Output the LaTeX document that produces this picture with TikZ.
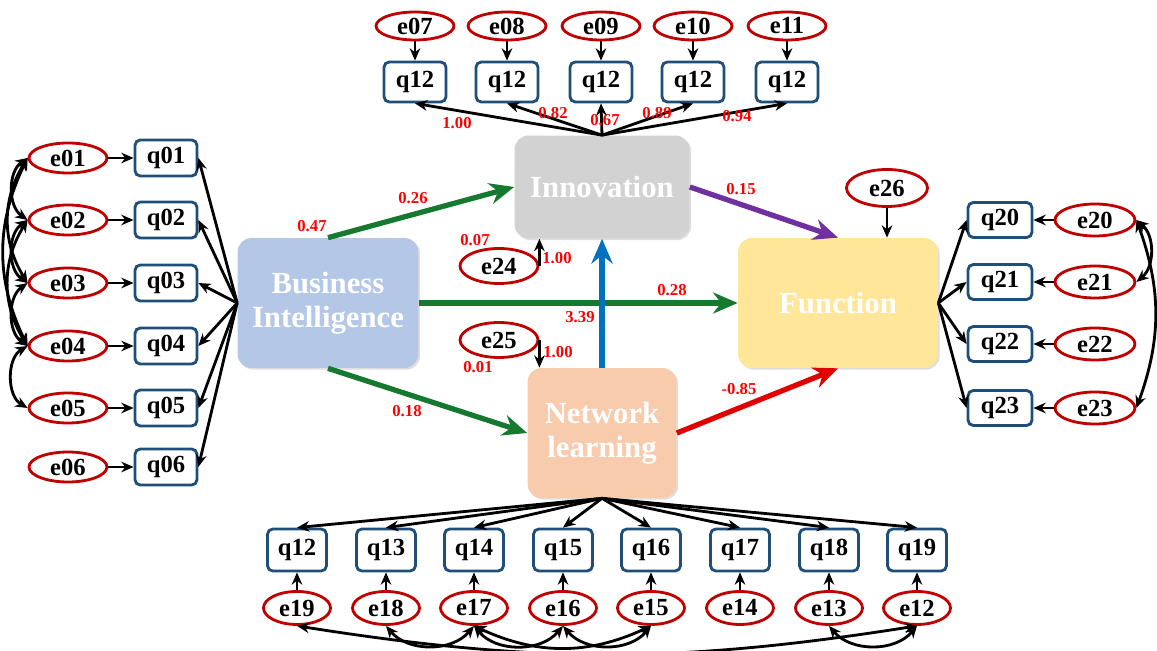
\documentclass[tikz,border=0pt]{standalone}
\usepackage{fontspec}
\setmainfont{Liberation Serif}
\usepackage{xcolor}
\usepackage{tikz}
\usetikzlibrary{shapes.geometric, arrows.meta, shadows}

\definecolor{errred}{HTML}{C00000}
\definecolor{boxblue}{HTML}{1F4E79}
\definecolor{bifill}{HTML}{B4C7E7}
\definecolor{innfill}{HTML}{D2D2D2}
\definecolor{netfill}{HTML}{F8CBAD}
\definecolor{funfill}{HTML}{FFE699}
\definecolor{pathgreen}{HTML}{17792F}
\definecolor{pathpurple}{HTML}{7030A0}
\definecolor{pathred}{HTML}{E00000}
\definecolor{pathblue}{HTML}{0070C0}

\begin{document}
\begin{tikzpicture}[x=0.02cm, y=-0.02cm, >={Stealth[length=7pt, width=6pt]}]
\tikzset{
  resid/.style = {ellipse, draw=errred, line width=1.6pt, fill=white, minimum width=1.56cm, minimum height=0.6cm, inner sep=0pt, font=\fontsize{14}{15}\selectfont\bfseries},
  indicator/.style = {rectangle, draw=boxblue, line width=1.6pt, fill=white, rounded corners=3pt, minimum width=1.24cm, minimum height=0.72cm, inner sep=0pt, font=\fontsize{14}{15}\selectfont\bfseries},
  latent/.style = {rectangle, rounded corners=8pt, text=white, align=center, font=\fontsize{17.5}{19.5}\selectfont\bfseries, drop shadow={shadow xshift=1pt, shadow yshift=-1pt, opacity=.25}},
  load/.style = {draw, line width=1.6pt, ->},
  cov/.style = {draw, line width=1.6pt, <->},
  struct/.style = {draw, line width=3pt, -{Stealth[length=14pt, width=12pt]}},
  coef/.style = {text=red, font=\fontsize{9.5}{11}\selectfont\bfseries, inner sep=1pt}
}
\useasboundingbox (0,0) rectangle (1157,651);

% latent variables
\node [latent, fill=bifill, minimum width=3.62cm, minimum height=2.6cm] (bi) at (328,303) {Business\\Intelligence};
\node [latent, fill=innfill, minimum width=3.5cm, minimum height=2.06cm] (innov) at (602,187) {Innovation};
\node [latent, fill=netfill, minimum width=2.98cm, minimum height=2.6cm] (net) at (602,433) {Network\\learning};
\node [latent, fill=funfill, minimum width=4cm, minimum height=2.6cm] (func) at (838,303) {Function};

% Business Intelligence indicators
\node [resid] (e01) at (68,158) {e01};
\node [resid] (e02) at (68,220) {e02};
\node [resid] (e03) at (68,283) {e03};
\node [resid] (e04) at (68,346) {e04};
\node [resid] (e05) at (68,408) {e05};
\node [resid] (e06) at (68,467) {e06};
\node [indicator, right of=e01, node distance=1.96cm] (q01) {q01};
\node [indicator, right of=e02, node distance=1.96cm] (q02) {q02};
\node [indicator, right of=e03, node distance=1.96cm] (q03) {q03};
\node [indicator, right of=e04, node distance=1.96cm] (q04) {q04};
\node [indicator, right of=e05, node distance=1.96cm] (q05) {q05};
\node [indicator, right of=e06, node distance=1.96cm] (q06) {q06};

% Innovation indicators
\node [resid, minimum height=0.56cm] (e07) at (415,26) {e07};
\node [resid, minimum height=0.56cm] (e08) at (507,26) {e08};
\node [resid, minimum height=0.56cm] (e09) at (601,26) {e09};
\node [resid, minimum height=0.56cm] (e10) at (693,26) {e10};
\node [resid, minimum height=0.56cm] (e11) at (787,26) {e11};
\node [indicator, below of=e07, node distance=1.12cm, minimum height=0.8cm] (q07) {q12};
\node [indicator, below of=e08, node distance=1.12cm, minimum height=0.8cm] (q08) {q12};
\node [indicator, below of=e09, node distance=1.12cm, minimum height=0.8cm] (q09) {q12};
\node [indicator, below of=e10, node distance=1.12cm, minimum height=0.8cm] (q10) {q12};
\node [indicator, below of=e11, node distance=1.12cm, minimum height=0.8cm] (q11) {q12};

% Network learning indicators
\node [indicator, minimum width=1.18cm, minimum height=0.84cm] (q12) at (297,550) {q12};
\node [indicator, minimum width=1.18cm, minimum height=0.84cm] (q13) at (386,550) {q13};
\node [indicator, minimum width=1.18cm, minimum height=0.84cm] (q14) at (474,550) {q14};
\node [indicator, minimum width=1.18cm, minimum height=0.84cm] (q15) at (563,550) {q15};
\node [indicator, minimum width=1.18cm, minimum height=0.84cm] (q16) at (651,550) {q16};
\node [indicator, minimum width=1.18cm, minimum height=0.84cm] (q17) at (740,550) {q17};
\node [indicator, minimum width=1.18cm, minimum height=0.84cm] (q18) at (829,550) {q18};
\node [indicator, minimum width=1.18cm, minimum height=0.84cm] (q19) at (917,550) {q19};
\node [resid, below of=q12, node distance=1.16cm, minimum width=1.34cm, minimum height=0.66cm] (e19) {e19};
\node [resid, below of=q13, node distance=1.16cm, minimum width=1.34cm, minimum height=0.66cm] (e18) {e18};
\node [resid, below of=q14, node distance=1.16cm, minimum width=1.34cm, minimum height=0.66cm] (e17) {e17};
\node [resid, below of=q15, node distance=1.16cm, minimum width=1.34cm, minimum height=0.66cm] (e16) {e16};
\node [resid, below of=q16, node distance=1.16cm, minimum width=1.34cm, minimum height=0.66cm] (e15) {e15};
\node [resid, below of=q17, node distance=1.16cm, minimum width=1.34cm, minimum height=0.66cm] (e14) {e14};
\node [resid, below of=q18, node distance=1.16cm, minimum width=1.34cm, minimum height=0.66cm] (e13) {e13};
\node [resid, below of=q19, node distance=1.16cm, minimum width=1.34cm, minimum height=0.66cm] (e12) {e12};

% Function indicators
\node [indicator, minimum width=1.28cm, minimum height=0.7cm] (q20) at (1000,220) {q20};
\node [indicator, minimum width=1.28cm, minimum height=0.7cm] (q21) at (1000,282) {q21};
\node [indicator, minimum width=1.28cm, minimum height=0.7cm] (q22) at (1000,344) {q22};
\node [indicator, minimum width=1.28cm, minimum height=0.7cm] (q23) at (1000,408) {q23};
\node [resid, right of=q20, node distance=1.9cm, minimum width=1.6cm, minimum height=0.64cm] (e20) {e20};
\node [resid, right of=q21, node distance=1.9cm, minimum width=1.6cm, minimum height=0.64cm] (e21) {e21};
\node [resid, right of=q22, node distance=1.9cm, minimum width=1.6cm, minimum height=0.64cm] (e22) {e22};
\node [resid, right of=q23, node distance=1.9cm, minimum width=1.6cm, minimum height=0.64cm] (e23) {e23};

% disturbances
\node [resid, minimum height=0.7cm] (e24) at (499,266) {e24};
\node [resid, minimum height=0.7cm] (e25) at (499,340) {e25};
\node [resid, minimum width=1.62cm, minimum height=0.74cm] (e26) at (887,188) {e26};

% loadings
\path [load] (bi.west) -- (q01.east);
\path [load] (bi.west) -- (q02.east);
\path [load] (bi.west) -- (q03.east);
\path [load] (bi.west) -- (q04.east);
\path [load] (bi.west) -- (q05.east);
\path [load] (bi.west) -- (q06.east);
\path [load] (innov.north) -- (q07.south);
\path [load] (innov.north) -- (q08.south);
\path [load] (innov.north) -- (q09.south);
\path [load] (innov.north) -- (q10.south);
\path [load] (innov.north) -- (q11.south);
\path [load] (net.south) -- (q12.north);
\path [load] (net.south) -- (q13.north);
\path [load] (net.south) -- (q14.north);
\path [load] (net.south) -- (q15.north);
\path [load] (net.south) -- (q16.north);
\path [load] (net.south) -- (q17.north);
\path [load] (net.south) -- (q18.north);
\path [load] (net.south) -- (q19.north);
\path [load] (func.east) -- (q20.west);
\path [load] (func.east) -- (q21.west);
\path [load] (func.east) -- (q22.west);
\path [load] (func.east) -- (q23.west);

% error terms
\path [load] (e01) -- (q01);
\path [load] (e02) -- (q02);
\path [load] (e03) -- (q03);
\path [load] (e04) -- (q04);
\path [load] (e05) -- (q05);
\path [load] (e06) -- (q06);
\path [load] (e07) -- (q07);
\path [load] (e08) -- (q08);
\path [load] (e09) -- (q09);
\path [load] (e10) -- (q10);
\path [load] (e11) -- (q11);
\path [load] (e19) -- (q12);
\path [load] (e18) -- (q13);
\path [load] (e17) -- (q14);
\path [load] (e16) -- (q15);
\path [load] (e15) -- (q16);
\path [load] (e14) -- (q17);
\path [load] (e13) -- (q18);
\path [load] (e12) -- (q19);
\path [load] (e20) -- (q20);
\path [load] (e21) -- (q21);
\path [load] (e22) -- (q22);
\path [load] (e23) -- (q23);
\path [load] (e24.east) -- (e24.east |- innov.south);
\path [load] (e25.east) -- (e25.east |- net.north);
\path [load] (e26) -- (e26 |- func.north);

% covariances
\path [cov] (e01.west) to[bend right=55] (e02.west);
\path [cov] (e02.west) to[bend right=55] (e03.west);
\path [cov] (e03.west) to[bend right=55] (e04.west);
\path [cov] (e04.west) to[bend right=60] (e05.west);
\path [cov] (e01.west) to[bend right=32] (e03.west);
\path [cov] (e02.west) to[bend right=32] (e04.west);
\path [cov] (e01.west) to[bend right=26] (e04.west);
\path [cov] (e19.south) to[bend right=9] (e12.south);
\path [cov] (e18.south) to[bend right=50] (e17.south);
\path [cov] (e17.south) to[bend right=50] (e16.south);
\path [cov] (e16.south) to[bend right=50] (e15.south);
\path [cov] (e17.south) to[bend right=25] (e15.south);
\path [cov] (e13.south) to[bend right=50] (e12.south);
\path [cov] (e20.east) to[bend left=50] (e21.east);
\path [cov] (e20.east) to[bend left=20] (e23.east);

% structural paths
\path [struct, draw=pathgreen] (bi.north) -- (innov.west);
\path [struct, draw=pathgreen] (bi.east) -- (func.west);
\path [struct, draw=pathgreen] (bi.south) -- (net.west);
\path [struct, draw=pathpurple] (innov.east) -- (func.north);
\path [struct, draw=pathred] (net.east) -- (func.south);
\path [struct, draw=pathblue] (net.north) -- (innov.south);

% estimates
\node [coef] (k07) at (457,123) {1.00};
\node [coef] (k08) at (553,113) {0.82};
\node [coef] (k09) at (605,120) {0.67};
\node [coef] (k10) at (657,113) {0.89};
\node [coef] (k11) at (737,116) {0.94};
\node [coef] (v_bi) at (312,226) {0.47};
\node [coef] (b_inn) at (413,198) {0.26};
\node [coef] (b_fun) at (672,290) {0.28};
\node [coef] (b_net) at (407,411) {0.18};
\node [coef] (b_inf) at (741,189) {0.15};
\node [coef] (b_nef) at (739,389) {-0.85};
\node [coef] (b_nei) at (580,317) {3.39};
\node [coef] (v_e24) at (475,240) {0.07};
\node [coef] (r_e24) at (557,258) {1.00};
\node [coef] (r_e25) at (558,352) {1.00};
\node [coef] (v_e25) at (478,367) {0.01};
\end{tikzpicture}
\end{document}
